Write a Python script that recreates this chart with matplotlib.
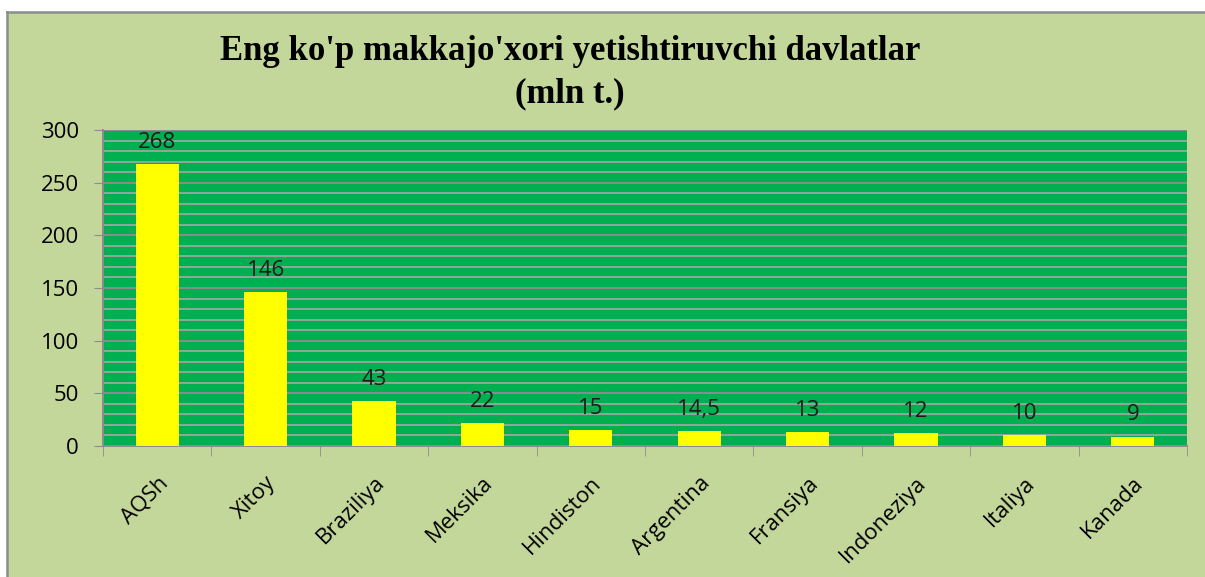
"""Top maize producing countries bar chart."""

import matplotlib
matplotlib.use("Agg")
import matplotlib.pyplot as plt
from matplotlib.patches import Rectangle
from matplotlib.lines import Line2D
import numpy as np

countries = ["AQSh", "Xitoy", "Braziliya", "Meksika", "Hindiston",
             "Argentina", "Fransiya", "Indoneziya", "Italiya", "Kanada"]
production = [268, 146, 43, 22, 15, 14.5, 13, 12, 10, 9]
value_labels = ["268", "146", "43", "22", "15", "14,5", "13", "12", "10", "9"]
y_ticks = [0, 50, 100, 150, 200, 250, 300]

W, H = 1205, 577
fig = plt.figure(figsize=(W / 100, H / 100), dpi=100)
fig.patch.set_facecolor("#C4D79B")
fig.patch.set_edgecolor("none")
fig.patch.set_linewidth(0)

# white margin above and left of the chart frame; frame runs off right/bottom
fx, fy = 7 / W, 1 - 12 / H
fig.patches.append(Rectangle((0, fy), 1, 1 - fy, transform=fig.transFigure,
                             facecolor="white", edgecolor="none", zorder=-10))
fig.patches.append(Rectangle((0, 0), fx, 1, transform=fig.transFigure,
                             facecolor="white", edgecolor="none", zorder=-10))
fig.lines.append(Line2D([fx, 1], [fy, fy], transform=fig.transFigure,
                        color="#8C8C8C", linewidth=1.8))
fig.lines.append(Line2D([fx, fx], [0, fy], transform=fig.transFigure,
                        color="#8C8C8C", linewidth=1.8))

ax = fig.add_axes([103 / W, 1 - 446 / H, (1187 - 103) / W, (446 - 130) / H])
ax.set_facecolor("#00B050")
x = np.arange(len(countries))
ax.bar(x, production, width=0.4, color="#FFFF00", zorder=3)
for xi, val, lab in zip(x, production, value_labels):
    ax.annotate(lab, (xi, val), xytext=(0, 8), textcoords="offset points",
                ha="center", va="bottom", fontsize=16, family="Open Sans",
                color="#1a1a1a", zorder=4)

ax.set_xlim(-0.5, len(countries) - 0.5)
ax.set_ylim(0, 300)
ax.set_yticks(y_ticks)
ax.set_yticks(np.arange(0, 301, 10), minor=True)
ax.yaxis.grid(True, which="minor", color="#A6A6A6", linewidth=1.2, zorder=1)
ax.yaxis.grid(True, which="major", color="#8C8C8C", linewidth=1.4, zorder=1)
ax.set_axisbelow(True)
ax.tick_params(axis="y", which="minor", length=0)
ax.tick_params(axis="y", which="major", length=6.5, color="#8C8C8C", labelsize=16, pad=11)
ax.set_xticks(np.arange(len(countries) + 1) - 0.5, minor=True)
ax.set_xticks(x)
ax.set_xticklabels(countries, rotation=45, ha="right", rotation_mode="anchor",
                   fontsize=16, family="Open Sans")
ax.tick_params(axis="x", which="major", length=0, pad=19)
ax.tick_params(axis="x", which="minor", length=7, color="#8C8C8C")
for lbl in ax.get_yticklabels():
    lbl.set_family("Open Sans")
for side in ["top", "right"]:
    ax.spines[side].set_visible(False)
for side in ["left", "bottom"]:
    ax.spines[side].set_color("#8C8C8C")
    ax.spines[side].set_linewidth(1.4)

fig.text(570 / W, 1 - 52 / H, "Eng ko'p makkajo'xori yetishtiruvchi davlatlar",
         ha="center", va="center", fontsize=25, fontweight="bold", family="Liberation Serif")
fig.text(570 / W, 1 - 94 / H, "(mln t.)",
         ha="center", va="center", fontsize=25, fontweight="bold", family="Liberation Serif")

fig.savefig("out.png", dpi=100)
